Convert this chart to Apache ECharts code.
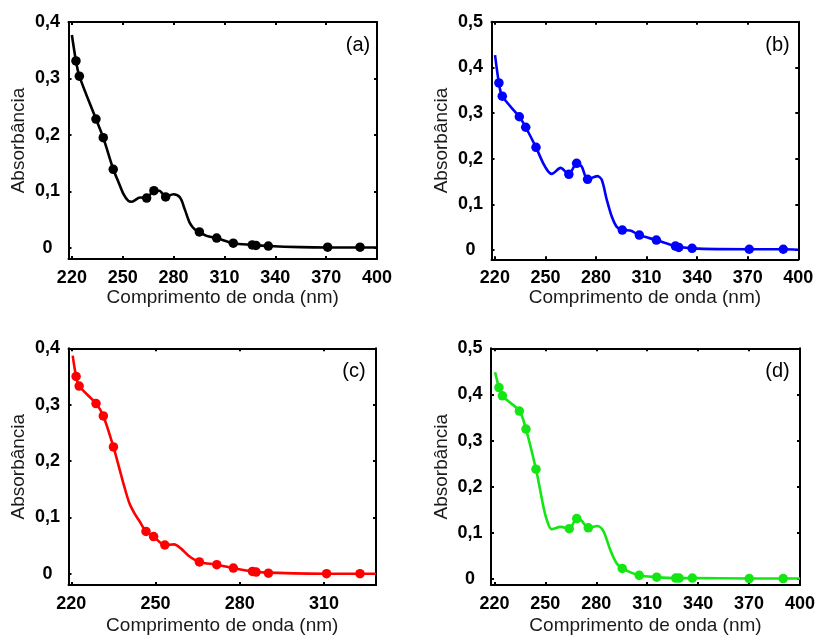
<!DOCTYPE html>
<html>
<head>
<meta charset="utf-8">
<script src="https://cdn.jsdelivr.net/npm/echarts@6/dist/echarts.min.js"></script>
<style>
  html, body { margin: 0; padding: 0; background: #fff; }
  #chart { width: 819px; height: 636px; }
</style>
</head>
<body>
<div id="chart"></div>
<script>
"use strict";
/**刻度**/
var xTicks = [220, 250, 280, 310, 340, 370, 400];
var xTicksC = [220, 250, 280, 310];
var yTicks4 = [0, 0.1, 0.2, 0.3, 0.4];
var yTicks5 = [0, 0.1, 0.2, 0.3, 0.4, 0.5];

/**(a) 黑**/
var dotXA = [222.4, 224.4, 234.2, 238.5, 244.4, 264.1, 268.4, 275.3, 295.2, 305.4, 315.2, 326.4, 328.6, 335.9, 370.9, 390];
var dotYA = [0.331, 0.304, 0.228, 0.195, 0.139, 0.088, 0.101, 0.090, 0.028, 0.017, 0.008, 0.005, 0.004, 0.003, 0.001, 0.001];
var lineXA = [220, 222.4, 224.4, 234.2, 238.5, 244.4, 247.4, 250.3, 253.3, 255.3, 260.2, 264.1, 268.4, 271.6, 275.3, 279.8, 283.8, 286.7, 289.7, 292.6, 295.2, 299.5, 305.4, 315.2, 326.4, 335.9, 355, 370.9, 390, 400];
var lineYA = [0.377, 0.331, 0.304, 0.228, 0.195, 0.139, 0.117, 0.096, 0.083, 0.0815, 0.089, 0.088, 0.101, 0.101, 0.090, 0.0947, 0.089, 0.067, 0.043, 0.032, 0.028, 0.021, 0.017, 0.008, 0.005, 0.003, 0.001, 0.0005, 0.0005, 0.0005];

/**(b) 蓝**/
var dotXB = [222.4, 224.4, 234.5, 238.3, 244.4, 263.9, 268.5, 275.0, 295.6, 305.7, 315.8, 327.1, 329.1, 337.0, 370.9, 391.1];
var dotYB = [0.366, 0.337, 0.292, 0.269, 0.225, 0.166, 0.190, 0.155, 0.044, 0.033, 0.022, 0.009, 0.006, 0.004, 0.002, 0.002];
var lineXB = [220.1, 222.4, 224.4, 234.5, 238.3, 244.4, 248.7, 251.7, 253.7, 259.0, 263.9, 268.5, 271.5, 275.0, 280.8, 283.4, 286.4, 289.4, 292.3, 295.6, 300.2, 305.7, 315.8, 327.1, 337.0, 370.9, 391.1, 400];
var lineYB = [0.427, 0.366, 0.337, 0.292, 0.269, 0.225, 0.190, 0.172, 0.167, 0.180, 0.166, 0.190, 0.183, 0.155, 0.162, 0.154, 0.110, 0.073, 0.051, 0.044, 0.043, 0.033, 0.022, 0.009, 0.004, 0.002, 0.002, 0.001];

/**(c) 红**/
var dotXC = [221.7, 222.8, 228.8, 231.4, 235.0, 246.6, 249.3, 253.3, 265.6, 271.8, 277.7, 284.5, 285.8, 290.2, 310.9, 322.8];
var dotYC = [0.350, 0.333, 0.302, 0.280, 0.225, 0.075, 0.066, 0.051, 0.021, 0.016, 0.010, 0.004, 0.003, 0.001, 0.000, 0.000];
var lineXC = [220.5, 221.7, 222.8, 228.8, 231.4, 235.0, 237.1, 238.9, 240.7, 242.5, 244.3, 246.6, 249.3, 253.3, 256.6, 259.0, 262.0, 265.6, 271.8, 277.7, 284.5, 290.2, 310.9, 322.8, 328.5];
var lineYC = [0.387, 0.350, 0.333, 0.302, 0.280, 0.225, 0.187, 0.154, 0.125, 0.107, 0.093, 0.075, 0.066, 0.051, 0.052, 0.045, 0.031, 0.021, 0.016, 0.010, 0.004, 0.002, 0.000, 0.000, 0.000];

/**(d) 绿**/
var dotXD = [222.7, 224.7, 234.7, 238.6, 244.5, 264.1, 268.5, 275.3, 295.3, 305.3, 315.6, 326.8, 328.8, 336.6, 370.1, 390.1];
var dotYD = [0.415, 0.397, 0.364, 0.325, 0.238, 0.109, 0.131, 0.111, 0.023, 0.008, 0.004, 0.002, 0.002, 0.002, 0.001, 0.001];
var lineXD = [220.4, 222.7, 224.7, 234.7, 238.6, 244.5, 246.9, 248.8, 250.8, 253.7, 259.0, 264.1, 268.5, 271.4, 275.3, 280.6, 284.2, 288.1, 292.0, 295.3, 305.3, 315.6, 326.8, 336.6, 370.1, 390.1, 400];
var lineYD = [0.448, 0.415, 0.397, 0.364, 0.325, 0.238, 0.194, 0.158, 0.129, 0.108, 0.113, 0.109, 0.131, 0.126, 0.111, 0.115, 0.104, 0.0645, 0.034, 0.023, 0.008, 0.004, 0.002, 0.002, 0.001, 0.001, 0.001];

var FONT = '"Liberation Sans", Arial, sans-serif';

init();

function init() {
  var chart = echarts.init(document.getElementById("chart"), null, {renderer: "canvas"});

  var panels = [
    {left: 68.5, top: 22, width: 308.5, height: 237, xMin: 218, xMax: 400, yMin: -0.02, yMax: 0.4,
      xt: xTicks, yt: yTicks4, color: "#000000", lx: lineXA, ly: lineYA, dx: dotXA, dy: dotYA, gap: 27, tag: "(a)", tx: 358, ty: 45},
    {left: 491.5, top: 21.7, width: 306.8, height: 237.6, xMin: 218, xMax: 400, yMin: -0.02, yMax: 0.5,
      xt: xTicks, yt: yTicks5, color: "#0000ff", lx: lineXB, ly: lineYB, dx: dotXB, dy: dotYB, gap: 27, tag: "(b)", tx: 777.5, ty: 45.5},
    {left: 68.5, top: 348.3, width: 307.5, height: 238.4, xMin: 219, xMax: 328.5, yMin: -0.02, yMax: 0.4,
      xt: xTicksC, yt: yTicks4, color: "#ff0000", lx: lineXC, ly: lineYC, dx: dotXC, dy: dotYC, gap: 31, tag: "(c)", tx: 354, ty: 371},
    {left: 491, top: 348.3, width: 309, height: 239.4, xMin: 218, xMax: 400, yMin: -0.013, yMax: 0.5,
      xt: xTicks, yt: yTicks5, color: "#14e614", lx: lineXD, ly: lineYD, dx: dotXD, dy: dotYD, gap: 31, tag: "(d)", tx: 777.5, ty: 371}
  ];

  var grids = [], xAxes = [], yAxes = [], series = [], texts = [];

  panels.forEach(function (p, i) {
    grids.push({left: p.left, top: p.top, width: p.width, height: p.height});

    var line = {show: true, onZero: false, lineStyle: {color: "#000", width: 2}};
    var tickX = {show: true, inside: true, length: 3, customValues: p.xt, lineStyle: {color: "#000", width: 2}};
    var tickY = {show: true, inside: true, length: 3, customValues: p.yt, lineStyle: {color: "#000", width: 2}};

    // 下/上 x轴
    xAxes.push({
      type: "value", gridIndex: i, position: "bottom", min: p.xMin, max: p.xMax,
      axisLine: line, axisTick: tickX, splitLine: {show: false},
      axisLabel: {customValues: p.xt, margin: 10, color: "#000", fontSize: 18, fontWeight: "bold", fontFamily: FONT},
      name: "Comprimento de onda (nm)", nameLocation: "middle", nameGap: p.gap,
      nameTextStyle: {color: "#1a1a1a", fontSize: 19, fontFamily: FONT}
    });
    xAxes.push({
      type: "value", gridIndex: i, position: "top", min: p.xMin, max: p.xMax,
      axisLine: line, axisTick: tickX, splitLine: {show: false}, axisLabel: {show: false}
    });

    // 左/右 y轴
    yAxes.push({
      type: "value", gridIndex: i, position: "left", min: p.yMin, max: p.yMax,
      axisLine: line, axisTick: tickY, splitLine: {show: false},
      axisLabel: {
        customValues: p.yt, margin: 21, align: "center", color: "#000", fontSize: 18, fontWeight: "bold", fontFamily: FONT,
        formatter: function (v) { return String(Math.round(v * 10) / 10).replace(".", ","); }
      },
      name: "Absorbância", nameLocation: "middle", nameRotate: 90, nameGap: 40,
      nameTextStyle: {color: "#1a1a1a", fontSize: 19, fontFamily: FONT}
    });
    yAxes.push({
      type: "value", gridIndex: i, position: "right", min: p.yMin, max: p.yMax,
      axisLine: line, axisTick: tickY, splitLine: {show: false}, axisLabel: {show: false}
    });

    series.push({
      type: "line", xAxisIndex: 2 * i, yAxisIndex: 2 * i,
      data: p.lx.map(function (x, k) { return [x, p.ly[k]]; }),
      smooth: 0.3, showSymbol: false, silent: true,
      lineStyle: {color: p.color, width: 2.6}
    });
    series.push({
      type: "scatter", xAxisIndex: 2 * i, yAxisIndex: 2 * i,
      data: p.dx.map(function (x, k) { return [x, p.dy[k]]; }),
      symbolSize: 9.5, itemStyle: {color: p.color, opacity: 1}
    });

    texts.push({
      type: "text", x: p.tx, y: p.ty,
      style: {text: p.tag, fill: "#000", fontSize: 20, fontFamily: FONT, align: "center", verticalAlign: "middle"}
    });
  });

  chart.setOption({
    animation: false,
    backgroundColor: "#fff",
    grid: grids,
    xAxis: xAxes,
    yAxis: yAxes,
    series: series,
    graphic: texts
  });
}
</script>
</body>
</html>
